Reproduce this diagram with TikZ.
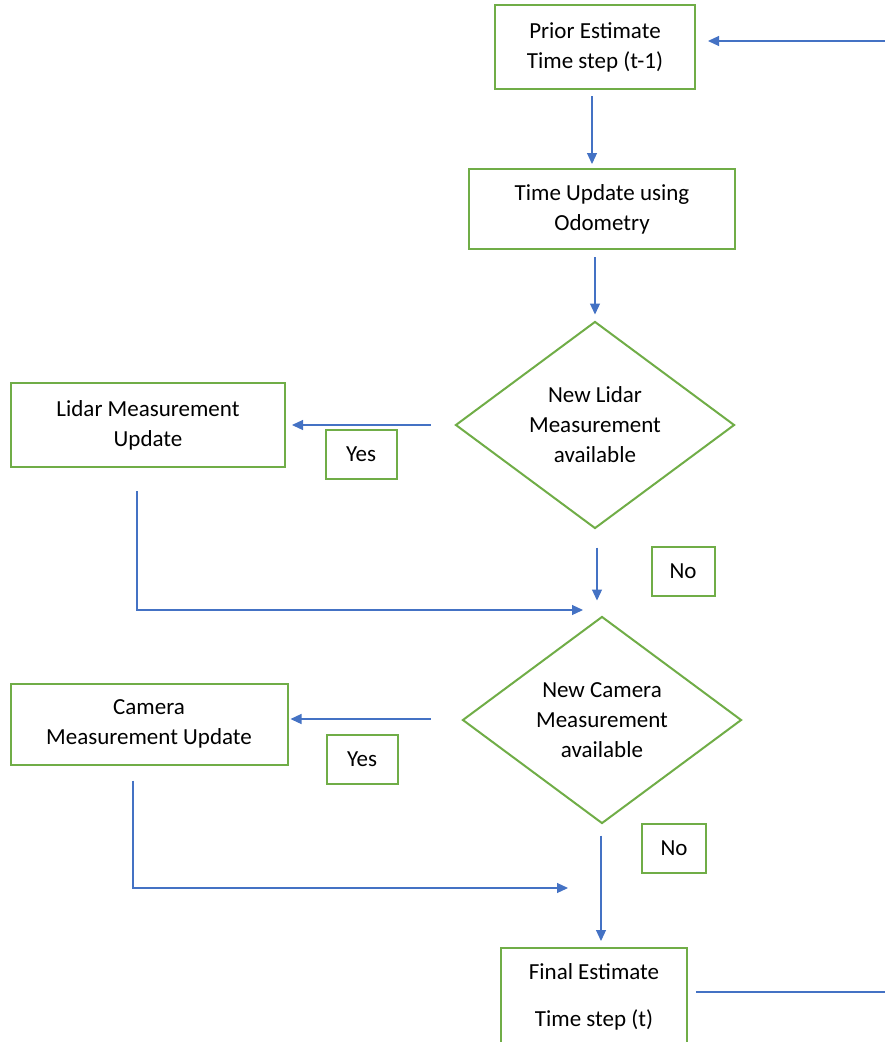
\documentclass[tikz,border=0pt]{standalone}
\usepackage{fontspec}
\setmainfont{Carlito}
\usetikzlibrary{shapes.geometric,arrows.meta}
\definecolor{boxgreen}{HTML}{70AD47}
\definecolor{linkblue}{HTML}{4472C4}

\tikzstyle{every node}=[font={\fontsize{23}{30}\selectfont}, align=center, inner sep=0pt]
\tikzstyle{block}=[draw=boxgreen, line width=2pt]
\tikzstyle{decision}=[block, diamond, aspect=1.35, minimum width=279pt, minimum height=207pt]
\tikzstyle{answer}=[block, minimum height=49pt]
\tikzstyle{link}=[draw=linkblue, line width=1.2pt, -{Triangle[length=11pt,width=10pt]}]
\tikzstyle{plain}=[draw=linkblue, line width=1.2pt]

\begin{document}
\begin{tikzpicture}[x=1pt, y=-1pt]
    \useasboundingbox (0,0) rectangle (885,1042);

    \node [block, minimum width=200pt, minimum height=84pt] (prior) at (595,47) {Prior Estimate\\Time step (t-1)};
    \node [block, minimum width=266pt, minimum height=80pt] (timeupd) at (602,209) {Time Update using\\Odometry};
    \node [decision] (lidar) at (595,425) {New Lidar\\Measurement\\available};
    \node [block, minimum width=274pt, minimum height=84pt] (lidarupd) at (148,425) {Lidar Measurement\\Update};
    \node [answer, minimum width=71pt] (lidaryes) at (361,454) {Yes};
    \node [answer, minimum width=63pt] (lidarno) at (683,571) {No};
    \node [decision] (camera) at (602,720) {New Camera\\Measurement\\available};
    \node [block, minimum width=277pt, minimum height=81pt] (cameraupd) at (149,724) {Camera\\Measurement Update};
    \node [answer, minimum width=71pt] (camerayes) at (362,759) {Yes};
    \node [answer, minimum width=64pt] (camerano) at (674,848) {No};
    \node [block, minimum width=186pt, minimum height=97pt] (final) at (594,996.5) {Final Estimate\\[17pt]Time step (t)};

    \coordinate (loopin) at (885,41);
    \coordinate (loopout) at (885,992);
    \coordinate (lidarin) at (583,610);
    \coordinate (camerain) at (568,888);

    \draw [link, shorten >=12pt] (loopin) -- (loopin -| prior.east);
    \draw [link, shorten <=6pt, shorten >=4pt] ([xshift=-3pt]prior.south) -- ([xshift=-3pt]prior.south |- timeupd.north);
    \draw [link, shorten <=7pt, shorten >=6pt] (timeupd.south -| lidar.north) -- (lidar.north);
    \draw [link, shorten <=24pt, shorten >=6pt] (lidar.west) -- (lidar.west -| lidarupd.east);
    \draw [link] ([xshift=-11pt, yshift=-23pt]lidarupd.south) |- (lidarin);
    \draw [link, shorten <=18pt, shorten >=15pt] ([xshift=2pt]lidar.south) -- ([xshift=2pt]lidar.south |- camera.north);
    \draw [link, shorten <=31pt, shorten >=2pt] ([yshift=1pt]camera.west) -- ([yshift=1pt]camera.west -| cameraupd.east);
    \draw [link] ([xshift=-16pt, yshift=-15pt]cameraupd.south) |- (camerain);
    \draw [link, shorten <=11pt, shorten >=6pt] ([xshift=-1pt]camera.south) -- ([xshift=-1pt]camera.south |- final.north);
    \draw [plain] ([xshift=8pt]final.east |- loopout) -- (loopout);
\end{tikzpicture}
\end{document}
